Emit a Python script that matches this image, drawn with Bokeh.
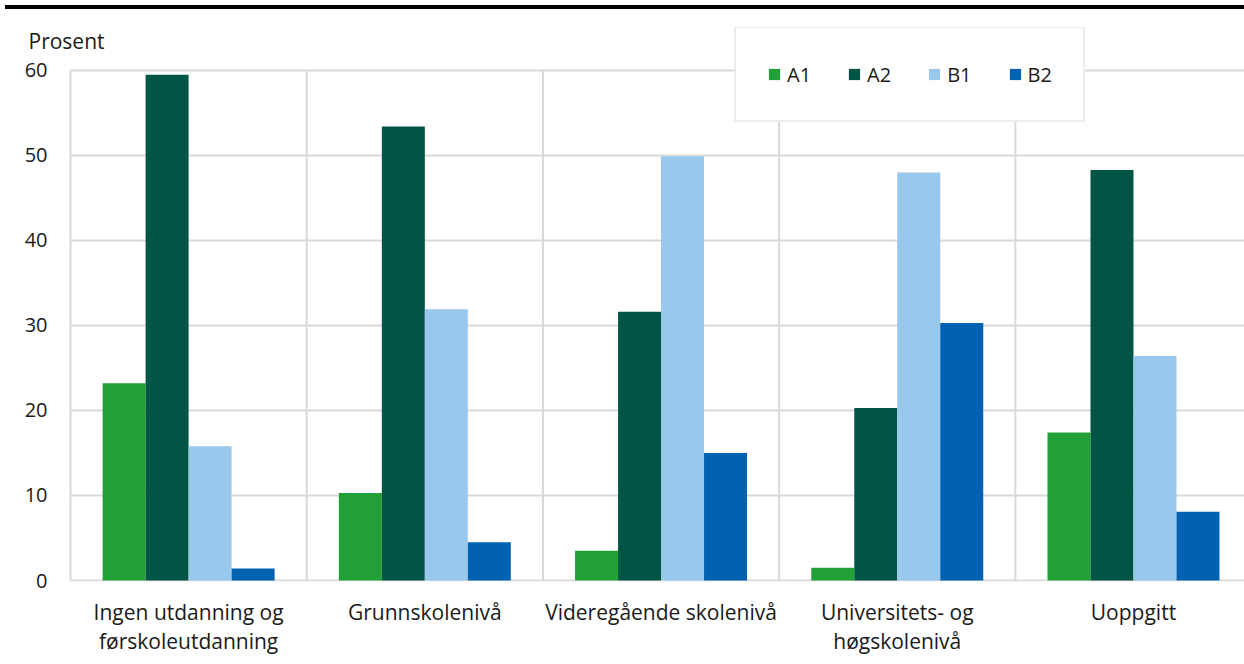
import numpy as np
from bokeh.plotting import figure
from bokeh.models import (Range1d, FixedTicker, Legend, LegendItem, Label, Div)
from bokeh.layouts import column
from bokeh.embed import file_html
from bokeh.resources import INLINE

categories = ["Ingen utdanning og\nførskoleutdanning", "Grunnskolenivå",
              "Videregående skolenivå", "Universitets- og\nhøgskolenivå", "Uoppgitt"]
series = ["A1", "A2", "B1", "B2"]
A1 = [23.2, 10.3, 3.5, 1.5, 17.4]
A2 = [59.5, 53.4, 31.6, 20.3, 48.3]
B1 = [15.8, 31.9, 49.9, 48.0, 26.4]
B2 = [1.4, 4.5, 15.0, 30.3, 8.1]
colors = ["#21a038", "#005544", "#98c8ec", "#0062b0"]
y_ticks = [0, 10, 20, 30, 40, 50, 60]
y_label = "Prosent"

FONT = "Open Sans"
GRID = "#d9d9d9"
TXT = "#1a1a1a"

n = len(categories)
centers = np.arange(n) + 0.5
bw = 0.182

x_start, x_end = -0.1778, 4.970
y_start, y_end = -0.117, 65.05

p = figure(width=1244, height=643, output_backend="svg", toolbar_location=None,
           x_range=Range1d(x_start, x_end), y_range=Range1d(y_start, y_end),
           min_border_left=28, min_border_right=0, min_border_top=13, min_border_bottom=75)
p.outline_line_color = None
p.xgrid.visible = False
p.ygrid.visible = False

# grid lines: horizontal at y ticks, vertical at category boundaries
bounds = np.arange(n + 1)
p.segment(x0=[0] * len(y_ticks), x1=[n] * len(y_ticks), y0=y_ticks, y1=y_ticks,
          line_color=GRID, line_width=2)
p.segment(x0=bounds, x1=bounds, y0=[0] * len(bounds), y1=[max(y_ticks)] * len(bounds),
          line_color=GRID, line_width=2)

renderers = []
for k, (name, vals) in enumerate(zip(series, [A1, A2, B1, B2])):
    off = (k - 1.5) * bw
    r = p.vbar(x=centers + off, top=vals, width=bw, bottom=0,
               fill_color=colors[k], line_color=None)
    renderers.append((name, r))

# axes
p.xaxis.ticker = FixedTicker(ticks=list(centers))
p.xaxis.major_label_overrides = {float(c): lab for c, lab in zip(centers, categories)}
p.xaxis.axis_line_color = None
p.xaxis.major_tick_line_color = None
p.xaxis.major_tick_out = 0
p.xaxis.minor_tick_line_color = None
p.xaxis.major_label_text_font = FONT
p.xaxis.major_label_text_font_size = "21px"
p.xaxis.major_label_text_color = TXT
p.xaxis.major_label_standoff = 16
p.xaxis.major_label_text_line_height = 1.04

p.yaxis.ticker = FixedTicker(ticks=y_ticks)
p.yaxis.axis_line_color = None
p.yaxis.major_tick_line_color = None
p.yaxis.major_tick_out = 0
p.yaxis.minor_tick_line_color = None
p.yaxis.major_label_text_font = FONT
p.yaxis.major_label_text_font_size = "20px"
p.yaxis.major_label_text_color = TXT
p.yaxis.major_label_standoff = -19

p.add_layout(Label(x=x_start, y=63.5, text=y_label, text_baseline="middle",
                   text_align="left", text_font=FONT, text_font_size="21px",
                   text_color=TXT))

legend = Legend(items=[LegendItem(label=nm, renderers=[r]) for nm, r in renderers],
                orientation="horizontal", location=(706, 459),
                border_line_color=GRID, border_line_width=2,
                background_fill_color="white", background_fill_alpha=1.0,
                padding=31, spacing=36, margin=0, label_height=30,
                glyph_width=14, glyph_height=14, label_standoff=6,
                label_text_font=FONT, label_text_font_size="20px", label_text_color=TXT)
p.add_layout(legend, "center")

topline = Div(width=1244, height=4, styles={"background-color": "black"})
layout = column(topline, p, spacing=0)

open("out.html", "w").write(file_html(layout, INLINE))
